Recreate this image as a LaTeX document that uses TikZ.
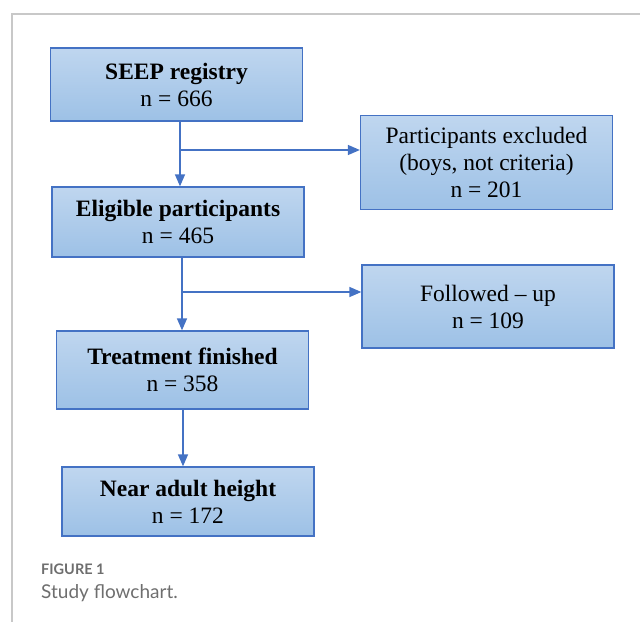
\documentclass[tikz,border=0pt]{standalone}
\usepackage{fontspec}
\setmainfont{Liberation Serif}
\newfontfamily\capfont{Lato}
\usetikzlibrary{arrows.meta,positioning,calc}

\definecolor{boxline}{HTML}{4472C4}
\definecolor{boxtop}{HTML}{BFD6EF}
\definecolor{boxbot}{HTML}{9DC1E6}
\definecolor{framegray}{HTML}{C8C8C8}
\definecolor{capgray}{HTML}{6E6E6E}

\begin{document}
\begin{tikzpicture}[
    x=1pt, y=-1pt,
    every node/.style={inner sep=0pt},
    flowbox/.style={
        draw=boxline, line width=1.3pt,
        top color=boxtop, bottom color=boxbot,
        minimum width=252pt,
        align=center,
        font=\fontsize{23.5}{27}\selectfont
    },
    arr/.style={
        draw=boxline, line width=1.5pt,
        -{Triangle[length=12pt,width=10pt]}
    },
    link/.style={draw=boxline, line width=1.5pt}
]
\useasboundingbox (0,0) rectangle (640,622);
% frame
\draw[framegray, line width=1.5pt] (640,14) -- (12,14) -- (12,622);

% left column
\node[flowbox, minimum height=73pt] (seep) at (176.5,84.5)
    {\textbf{SEEP registry}\\n = 666};
\node[flowbox, minimum height=70pt] (elig) at (178,222)
    {\textbf{Eligible participants}\\n = 465};
\node[flowbox, minimum height=78pt] (treat) at (182.5,370)
    {\textbf{Treatment finished}\\n = 358};
\node[flowbox, minimum height=69pt] (near) at (188,501.5)
    {\textbf{Near adult height}\\n = 172};

% right column
\node[flowbox, minimum height=94pt] (excl) at (486.5,162.5)
    {Participants excluded\\(boys, not criteria)\\n = 201};
\node[flowbox, minimum height=83pt] (foll) at (488,306.5)
    {Followed -- up\\n = 109};

% connectors
\coordinate (j1) at (180,150);
\coordinate (j2) at (182,292);
\draw[link] (j1 |- seep.south) -- (j1);
\draw[arr] (j1) -- (j1 |- elig.north);
\draw[arr] (j1) -- (j1 -| excl.west);
\draw[link] (j2 |- elig.south) -- (j2);
\draw[arr] (j2) -- (j2 |- treat.north);
\draw[arr] (j2) -- (j2 -| foll.west);
\draw[arr] ([xshift=0.5pt]treat.south) -- ([xshift=0.5pt]treat.south |- near.north);

% caption
\node[anchor=base west, text=capgray, font=\capfont\bfseries\fontsize{14.5}{16}\selectfont]
    (fig) at (41,574) {FIGURE 1};
\node[anchor=base west, text=capgray, font=\capfont\fontsize{19}{22}\selectfont]
    (cap) at (41,598) {Study flowchart.};
\end{tikzpicture}
\end{document}
